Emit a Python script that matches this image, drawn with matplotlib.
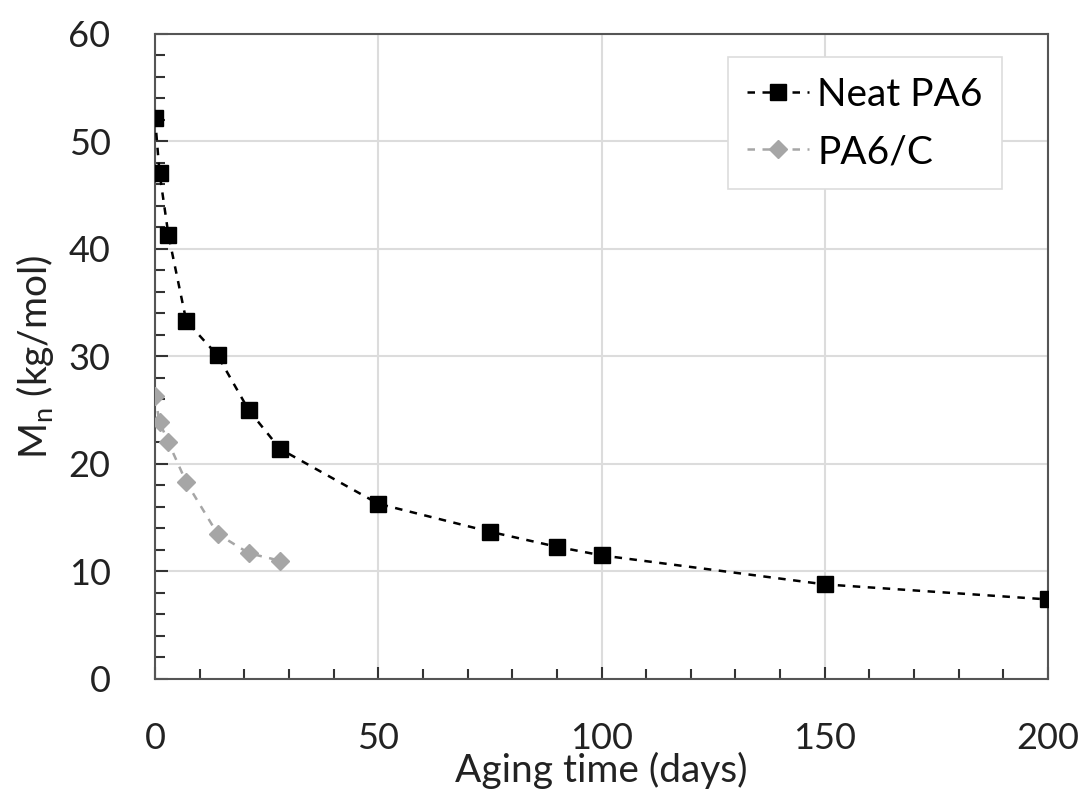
import matplotlib
matplotlib.use("Agg")
import matplotlib.pyplot as plt
from matplotlib.ticker import MultipleLocator

plt.rcParams['font.family'] = ['Lato', 'DejaVu Sans']
plt.rcParams['mathtext.fontset'] = 'custom'
plt.rcParams['mathtext.rm'] = 'Lato'

neat_days = [0, 1, 3, 7, 14, 21, 28, 50, 75, 90, 100, 150, 200]
neat_mn = [52.2, 47.1, 41.3, 33.3, 30.1, 25.0, 21.4, 16.3, 13.7, 12.3, 11.5, 8.8, 7.4]
pac_days = [0, 1, 3, 7, 14, 21, 28]
pac_mn = [26.3, 23.9, 22.0, 18.3, 13.5, 11.7, 11.0]

x_ticks = [0, 50, 100, 150, 200]
y_ticks = [0, 10, 20, 30, 40, 50, 60]

fig = plt.figure(figsize=(10.85, 7.96), dpi=100)
ax = fig.add_axes([0.1429, 0.147, 0.823, 0.8103])

ax.plot(neat_days, neat_mn, linestyle=(0, (3, 3)), color='black', linewidth=1.8,
        marker='s', markersize=12, label='Neat PA6', zorder=3)
ax.plot(pac_days, pac_mn, linestyle=(0, (3, 3)), color='#a6a6a6', linewidth=1.8,
        marker='D', markersize=9, label='PA6/C', zorder=3)

ax.set_xlim(0, 200)
ax.set_ylim(0, 60)
ax.set_xticks(x_ticks)
ax.set_yticks(y_ticks)
ax.xaxis.set_minor_locator(MultipleLocator(10))
ax.yaxis.set_minor_locator(MultipleLocator(2))
ax.grid(True, which='major', color='#dcdcdc', linewidth=1.5, zorder=0)
ax.set_axisbelow(True)

for s in ax.spines.values():
    s.set_color('#555555')
    s.set_linewidth(1.5)

ax.tick_params(axis='both', which='major', direction='in', length=9, width=1.5,
               color='#333333', labelsize=26, labelcolor='#222222')
ax.tick_params(axis='both', which='minor', direction='in', length=7, width=1.5,
               color='#333333')
ax.tick_params(axis='x', which='major', pad=31)
ax.tick_params(axis='y', which='major', pad=32)
ax.tick_params(top=False, right=False, which='both')

ax.set_xlabel('Aging time (days)', fontsize=28, color='#222222', labelpad=-2)
ax.set_ylabel(r'M$_\mathregular{n}$ (kg/mol)', fontsize=28, color='#222222', labelpad=9)

leg = ax.legend(loc='upper right', bbox_to_anchor=(0.9485, 0.964), borderaxespad=0,
                fontsize=28, frameon=True, fancybox=False, edgecolor='#dddddd',
                framealpha=1, handlelength=1.6, handletextpad=0.2, borderpad=0.5,
                labelspacing=0.55)
leg.get_frame().set_linewidth(1.2)

fig.savefig('out.png', dpi=100)
